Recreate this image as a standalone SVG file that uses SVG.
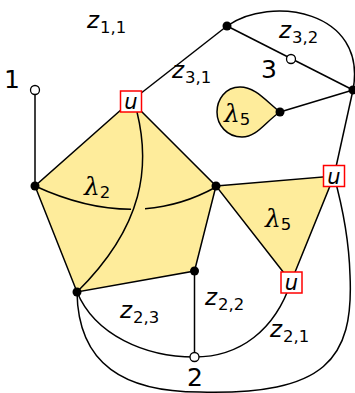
<svg xmlns="http://www.w3.org/2000/svg" width="355" height="393" viewBox="0 0 355 393">
<style>
.face{fill:#feec9b;stroke:none}
.e{fill:none;stroke:#000;stroke-width:1.5}
.dot{fill:#000}
.open{fill:#fff;stroke:#000;stroke-width:1.3}
.box{fill:#fff;stroke:#f00;stroke-width:1.5}
.t{font-family:"DejaVu Sans",sans-serif;font-style:italic;font-size:23px;fill:#000}
.s{font-size:16.5px;font-style:normal}
.num{font-family:"DejaVu Sans",sans-serif;font-size:25px;fill:#000}
.u{font-family:"DejaVu Sans",sans-serif;font-style:italic;font-size:21px;fill:#000;text-anchor:middle}
.lam{font-family:"DejaVu Serif",serif;font-style:italic;font-size:25px;fill:#000}
.ls{font-family:"DejaVu Sans",sans-serif;font-style:normal;font-size:16.5px}
</style>
<g id="faces">
<polygon class="face" points="131,101 216,186 194,271 77,292 35,186"/>
<polygon class="face" points="216,186 334,176 291,282"/>
<path class="face" d="M280,112 C265,100 255,87 240,87 C225,87 217,100 217,112 C217,125 227,137 242,137 C257,137 265,122 280,112 Z"/>
</g>
<g id="connectors">
<polygon class="e" points="131,101 216,186 194.5,271 77,292 35,186"/>
<polygon class="e" points="216,186 334,176 291,282"/>
<path class="e" d="M280,112 C265,100 255,87 240,87 C225,87 217,100 217,112 C217,125 227,137 242,137 C257,137 265,122 280,112 Z"/>
<line class="e" x1="35" y1="90" x2="35" y2="186"/>
<line class="e" x1="131" y1="101" x2="227" y2="26"/>
<line class="e" x1="227" y1="26" x2="353" y2="90"/>
<path class="e" d="M227,26 C270,-5 368,10 353,90"/>
<line class="e" x1="353" y1="90" x2="280" y2="112"/>
<line class="e" x1="353" y1="90" x2="334" y2="176"/>
<path class="e" d="M137,112 C150,165 145,225 77,292"/>
<path class="e" d="M35,186 Q85.4,209.2 131,209.3"/>
<path class="e" d="M145,208.7 Q182.1,205.8 216,187"/>
<line class="e" x1="194.5" y1="271" x2="194.5" y2="357"/>
<path class="e" d="M77,292 C95,335 145,357 194.5,357"/>
<path class="e" d="M194.5,357 C240,357 275,330 291,282"/>
<path class="e" d="M77,292 C78,365 125,392 200,392 C325,395 354,360 350,275 C349,240 342,205 334,176"/>
</g>
<g id="n1"><circle class="open" cx="35" cy="90" r="4.5"/><text class="num" x="4" y="88">1</text></g>
<g id="nL"><circle class="dot" cx="35" cy="186" r="4.5"/></g>
<g id="uTop"><rect class="box" x="120.5" y="91" width="21" height="21"/><text class="u" x="131" y="109">u</text></g>
<g id="nR"><circle class="dot" cx="216" cy="186" r="4.5"/></g>
<g id="nBR"><circle class="dot" cx="194.5" cy="271" r="4.5"/></g>
<g id="nBL"><circle class="dot" cx="77" cy="292" r="4.5"/></g>
<g id="nTop"><circle class="dot" cx="227" cy="26" r="4.5"/></g>
<g id="n3"><circle class="open" cx="291" cy="59" r="4.5"/><text class="num" x="261" y="78">3</text></g>
<g id="nFarR"><circle class="dot" cx="353" cy="90" r="4.5"/></g>
<g id="nTear"><circle class="dot" cx="280" cy="112" r="4.5"/></g>
<g id="uRight"><rect class="box" x="323.5" y="165.5" width="21" height="21"/><text class="u" x="334" y="183.5">u</text></g>
<g id="uBottom"><rect class="box" x="281" y="272" width="21" height="21"/><text class="u" x="291.5" y="290">u</text></g>
<g id="n2"><circle class="open" cx="194.5" cy="357" r="4.5"/><text class="num" x="187" y="386">2</text></g>
<g id="labels">
<text class="t" x="87" y="28">z<tspan class="s" dx="1" dy="5">1,1</tspan></text>
<text class="t" x="172" y="78">z<tspan class="s" dx="1" dy="5">3,1</tspan></text>
<text class="t" x="279" y="38">z<tspan class="s" dx="1" dy="5">3,2</tspan></text>
<text class="t" x="120" y="318">z<tspan class="s" dx="1" dy="5">2,3</tspan></text>
<text class="t" x="205" y="305">z<tspan class="s" dx="1" dy="5">2,2</tspan></text>
<text class="t" x="270" y="337">z<tspan class="s" dx="1" dy="5">2,1</tspan></text>
<text class="lam" x="84" y="195">λ<tspan class="ls" dy="3">2</tspan></text>
<text class="lam" x="224" y="122">λ<tspan class="ls" dy="3">5</tspan></text>
<text class="lam" x="265" y="227">λ<tspan class="ls" dy="3">5</tspan></text>
</g>
</svg>
